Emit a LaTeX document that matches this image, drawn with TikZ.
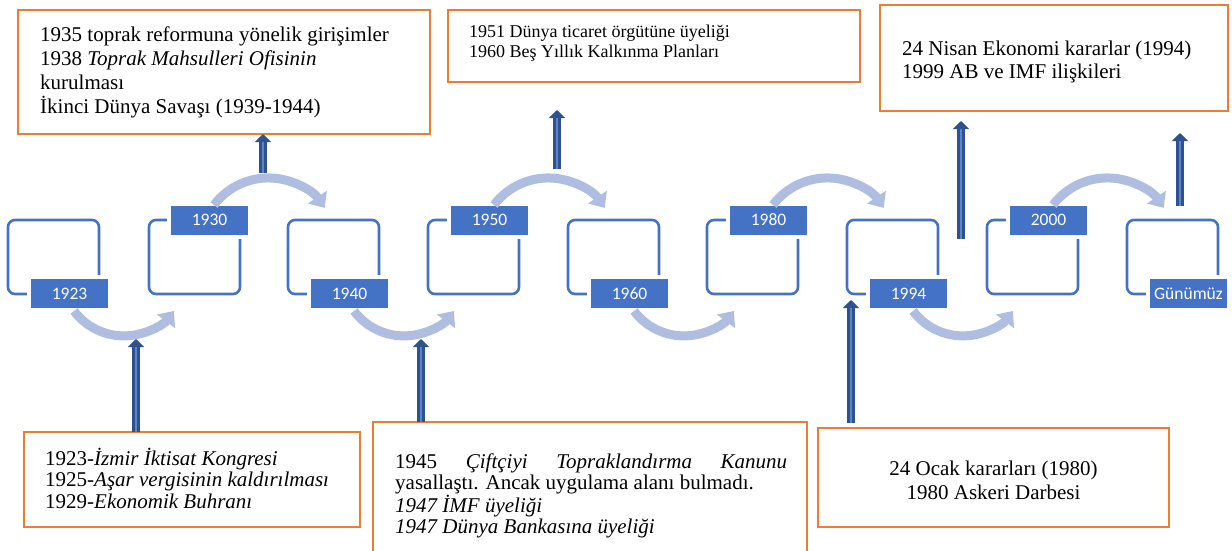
\documentclass[tikz,border=0pt]{standalone}
\usepackage{fontspec}
\setmainfont{Liberation Serif}
\newfontfamily\yearfont{Carlito}
\usetikzlibrary{arrows.meta}
\definecolor{accent}{HTML}{ED7D31}
\definecolor{steel}{HTML}{4472C4}
\definecolor{pale}{HTML}{AFBDE1}
\definecolor{navy}{HTML}{2F528F}
\definecolor{core}{HTML}{5A86D0}

\begin{document}
\begin{tikzpicture}[x=1pt,y=-1pt,
  tbox/.style={draw=steel, line width=2.6pt, rounded corners=7pt, minimum width=91pt,
    minimum height=74pt, anchor=north west, inner sep=0, outer sep=0},
  ylabel/.style={fill=steel, draw=white, line width=4pt, text=white,
    font=\yearfont\fontsize{17.5}{19}\selectfont, minimum width=81pt, minimum height=33pt,
    inner sep=0},
  obox/.style={draw=accent, line width=2.5pt, anchor=north west, inner sep=0, outer sep=0},
  swoop/.style={draw=pale, line width=9pt, -{Triangle[length=13pt,width=22pt]}},
  lift/.style={draw=navy, line width=8pt, -{Triangle[length=8pt,width=16pt]}},
  liftcore/.style={draw=core, line width=2.5pt, shorten >=8pt},
  txt/.style={anchor=base west, inner sep=0},
]
\useasboundingbox (0,0) rectangle (1232,550);
\clip (0,0) rectangle (1232,550);
\fill[white] (0,0) rectangle (1232,550);

% timeline frames
\node[tbox] (b1) at (8,220) {};
\node[tbox] (b2) at (149,220) {};
\node[tbox] (b3) at (288,220) {};
\node[tbox] (b4) at (428,220) {};
\node[tbox] (b5) at (568,220) {};
\node[tbox] (b6) at (707,220) {};
\node[tbox] (b7) at (847,220) {};
\node[tbox] (b8) at (987,220) {};
\node[tbox] (b9) at (1127,220) {};

% year tabs
\node[ylabel] (l1) at (69.5,293.5) {1923};
\node[ylabel] (l2) at (209.5,220) {1930};
\node[ylabel] (l3) at (349.5,293.5) {1940};
\node[ylabel] (l4) at (489.5,220) {1950};
\node[ylabel] (l5) at (629.5,293.5) {1960};
\node[ylabel] (l6) at (768.5,220) {1980};
\node[ylabel] (l7) at (908.5,293.5) {1994};
\node[ylabel] (l8) at (1048.5,220) {2000};
\node[ylabel] (l9) at (1188.5,293.5) {Günümüz};

% curved arrows between frames
\foreach \l in {l1,l3,l5,l7}
  \draw[swoop] ([xshift=4.5pt,yshift=1pt]\l.south) arc[start angle=143, end angle=37, radius=62.5];
\foreach \l in {l2,l4,l6,l8}
  \draw[swoop] ([xshift=4.5pt,yshift=-3.5pt]\l.north) arc[start angle=217, end angle=326, radius=68];

% note boxes
\node[obox, minimum width=412pt, minimum height=124pt] (nA) at (18,10) {};
\node[obox, minimum width=412pt, minimum height=72pt] (nB) at (448,10) {};
\node[obox, minimum width=348pt, minimum height=106pt] (nC) at (880,5) {};
\node[obox, minimum width=336pt, minimum height=95pt] (nD) at (24,432) {};
\node[obox, minimum width=434pt, minimum height=160pt] (nE) at (373,422) {};
\node[obox, minimum width=351pt, minimum height=99pt] (nF) at (818,428) {};

\node[txt] (tA) at (40,41) {\parbox[t]{385pt}{\raggedright\fontsize{21}{24}\selectfont
  1935 toprak reformuna yönelik girişimler\\
  1938 \textit{Toprak Mahsulleri Ofisinin}\\
  kurulması\\
  İkinci Dünya Savaşı (1939-1944)}};
\node[txt] (tB) at (469,37) {\parbox[t]{380pt}{\raggedright\fontsize{18}{20}\selectfont
  1951 Dünya ticaret örgütüne üyeliği\\
  1960 Beş Yıllık Kalkınma Planları}};
\node[txt] (tC) at (902,55) {\parbox[t]{320pt}{\raggedright\fontsize{21}{23.5}\selectfont
  24 Nisan Ekonomi kararlar (1994)\\
  1999 AB ve IMF ilişkileri}};
\node[txt] (tD) at (45,465) {\parbox[t]{310pt}{\raggedright\fontsize{21}{21.5}\selectfont
  1923-\textit{İzmir İktisat Kongresi}\\
  1925-\textit{Aşar vergisinin kaldırılması}\\
  1929-\textit{Ekonomik Buhranı}}};
\node[txt] (tE) at (395,468) {\parbox[t]{392pt}{\raggedright\fontsize{21}{21.3}\selectfont
  \makebox[392pt][s]{1945 \textit{Çiftçiyi Topraklandırma Kanunu}}\\
  yasallaştı. Ancak uygulama alanı bulmadı.\\
  \textit{1947 İMF üyeliği}\\
  \textit{1947 Dünya Bankasına üyeliği}}};
\node[anchor=base, inner sep=0] (tF) at (993.5,475) {\parbox[t]{330pt}{\centering\fontsize{21}{24}\selectfont
  24 Ocak kararları (1980)\\
  1980 Askeri Darbesi}};

% upward pointers
\coordinate (p1) at (136,339);
\coordinate (q2) at (263,173);
\coordinate (p3) at (421,339);
\coordinate (q4) at (557,169);
\coordinate (p4) at (557,110);
\coordinate (q5) at (851,423);
\coordinate (p5) at (851,300);
\coordinate (q6) at (961,239);
\coordinate (p6) at (961,121);
\coordinate (q7) at (1180,206);
\coordinate (p7) at (1180,133);

\foreach \s/\e in {nD.north -| p1/p1, q2/nA.south -| q2, nE.north -| p3/p3, q4/p4, q5/p5, q6/p6, q7/p7}{
  \draw[lift] (\s) -- (\e);
  \draw[liftcore] (\s) -- (\e);
}
\end{tikzpicture}
\end{document}
